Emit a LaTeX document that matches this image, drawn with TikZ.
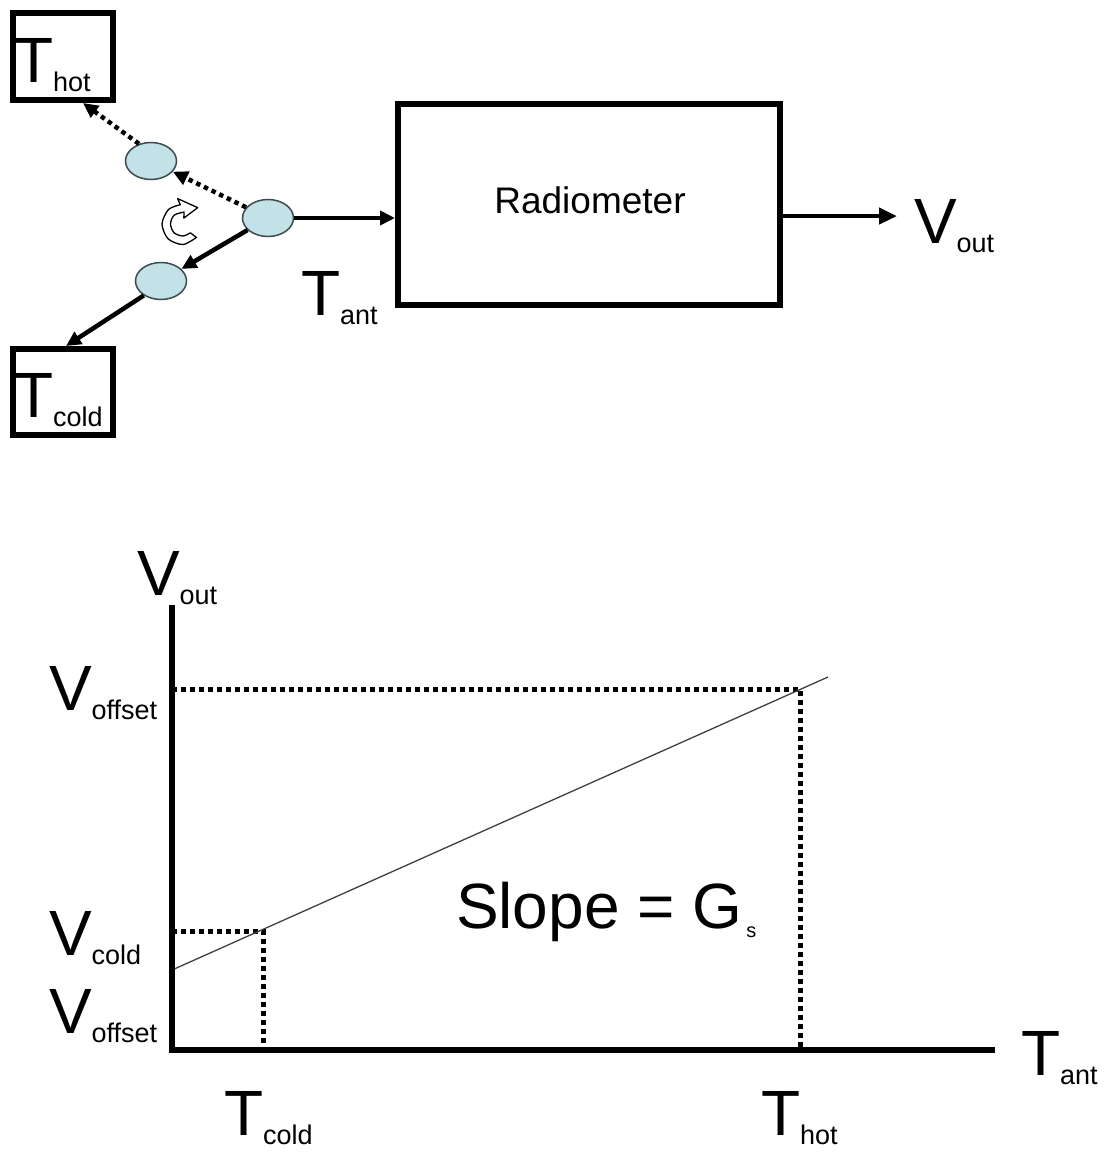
\documentclass[tikz,border=0pt]{standalone}
\usepackage{fontspec}
\setmainfont{Liberation Sans}
\usetikzlibrary{arrows.meta,shapes.geometric}
\definecolor{ellfill}{HTML}{C2E2E8}
\definecolor{elldraw}{HTML}{3E4A4E}
\newcommand\biglab[2]{{\fontsize{64}{64}\selectfont #1}\raisebox{-9.5pt}{\fontsize{27}{27}\selectfont #2}}
\begin{document}
\begin{tikzpicture}[x=1pt,y=-1pt,
  lbl/.style={anchor=base west, inner sep=0pt, outer sep=0pt},
  boxnode/.style={draw, line width=6pt, rectangle, inner sep=0pt},
  swnode/.style={ellipse, draw=elldraw, fill=ellfill, line width=1.5pt, minimum width=51pt, minimum height=37pt, inner sep=0pt},
  solidarrow/.style={line width=4.5pt, -{Triangle[length=15pt,width=14pt]}},
  bigarrow/.style={line width=4.5pt, -{Triangle[length=18pt,width=16pt]}},
  dotarrow/.style={line width=4.5pt, dash pattern=on 4.5pt off 4pt, -{Triangle[length=15pt,width=14pt]}},
  dotline/.style={line width=5pt, dash pattern=on 5pt off 4pt},
  axisline/.style={line width=6pt, line join=miter}]
\fill[white] (0,0) rectangle (1106,1157);
\useasboundingbox (0,0) rectangle (1106,1157);

% ---- top: switch and radiometer ----
\node[boxnode, minimum width=100pt, minimum height=87pt] (thot) at (63,56.5) {};
\node[boxnode, minimum width=100pt, minimum height=86pt] (tcold) at (63,392) {};
\node[boxnode, minimum width=382pt, minimum height=201pt] (rad) at (589,204.5) {};
\node[inner sep=0pt, font=\fontsize{37}{37}\selectfont] (radtxt) at (590,200) {Radiometer};

\node[lbl] (lthot) at (14,82) {\biglab{T}{hot}};
\node[lbl] (ltcold) at (14,417) {\biglab{T}{cold}};

\node[swnode] (up) at (151,161) {};
\node[swnode] (main) at (268,218) {};
\node[swnode] (low) at (161,281) {};

\draw[dotarrow] (main) -- (up);
\draw[dotarrow] (up.125) -- ([xshift=20pt]thot.south);
\draw[solidarrow] (main) -- (low);
\draw[solidarrow] (low.220) -- ([xshift=3pt]tcold.north);
\draw[solidarrow] (main) -- (main -| rad.west);
\coordinate (voutend) at (897,216);
\draw[bigarrow] (rad.east |- voutend) -- (voutend);

\begin{scope}[shift={(183,224)}]
\draw[line width=1.3pt, fill=white, line join=round]
  plot[smooth] coordinates {(45:19) (90:20.5) (135:21) (180:21) (225:20.5) (262:19.5)}
  -- (258:26) -- (312:22) -- (278:6) -- (275:12)
  -- plot[smooth] coordinates {(275:12) (225:12.5) (180:12.5) (135:12.5) (90:12) (50:11.5)}
  -- cycle;
\end{scope}

\node[lbl] (ltant) at (301,315) {\biglab{T}{ant}};
\node[lbl] (lvout) at (914,243) {\biglab{V}{out}};

% ---- bottom: transfer plot ----
\coordinate (O) at (172,1050);
\coordinate (ytop) at (172,605);
\coordinate (xend) at (995,1050);
\coordinate (la) at (172,970);
\coordinate (lb) at (828,677);
\coordinate (pc) at (263,931);
\coordinate (ph) at (800,689);
\draw[dotline] (O |- ph) -- (ph) -- (O -| ph);
\draw[dotline] (O |- pc) -- (pc) -- (O -| pc);
\draw[line width=1.3pt, color=black!75] (la) -- (lb);
\draw[axisline] (ytop) -- (O) -- (xend);

\node[lbl] (lvo) at (137,595) {\biglab{V}{out}};
\node[lbl] (lvoff1) at (49,710) {\biglab{V}{offset}};
\node[lbl] (lvcold) at (49,955) {\biglab{V}{cold}};
\node[lbl] (lvoff2) at (49,1033) {\biglab{V}{offset}};
\node[lbl] (ltc) at (224,1135) {\biglab{T}{cold}};
\node[lbl] (lth) at (761,1135) {\biglab{T}{hot}};
\node[lbl] (lta) at (1021,1075) {\biglab{T}{ant}};
\node[lbl] (slope) at (456,928) {\fontsize{64}{64}\selectfont Slope = G\hspace{4pt}\raisebox{-9pt}{\fontsize{20}{20}\selectfont s}};
\end{tikzpicture}
\end{document}
